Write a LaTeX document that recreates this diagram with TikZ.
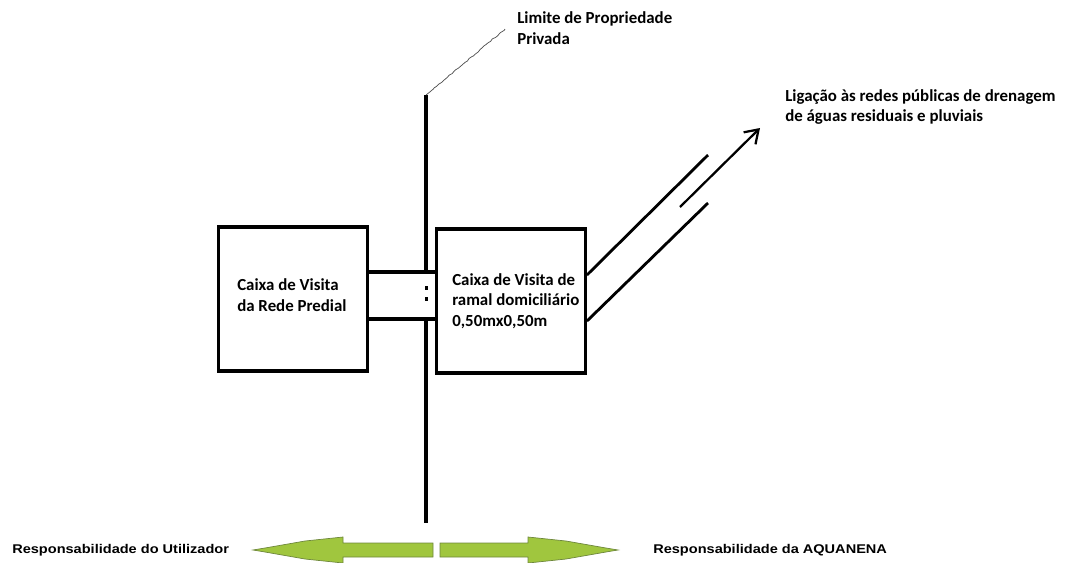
\documentclass[tikz,border=0pt]{standalone}
\usepackage{fontspec}
\setmainfont{Carlito}
\newfontfamily\arialfont[FakeStretch=1.15]{Liberation Sans}
\usetikzlibrary{arrows.meta,decorations.pathmorphing}

\definecolor{verdeseta}{RGB}{160,198,62}
\definecolor{verdeborda}{RGB}{110,135,60}

\tikzset{
  caixa/.style={draw, line width=2.2pt, minimum width=3.72cm, minimum height=3.6cm, inner sep=0pt},
  rotulo/.style={font=\bfseries\fontsize{12}{14.5}\selectfont, align=left, inner sep=0pt, anchor=west},
  rotuloresp/.style={font=\arialfont\bfseries\fontsize{9}{11}\selectfont, inner sep=0pt, anchor=west},
  seta/.style={fill=verdeseta, draw=verdeborda, line width=0.5pt}
}

\begin{document}
\begin{tikzpicture}[x=0.025cm,y=-0.025cm]

\useasboundingbox (0,0) rectangle (1065,562);

% limite de propriedade
\coordinate (LT) at (426,95);
\coordinate (LB) at (426,523);
\coordinate (L1) at (426,272);
\coordinate (L2) at (426,319);
\coordinate (LN) at (505,29);

% caixas
\node [caixa] (CVP) at (293,299) {};
\node [caixa] (CRD) at (511,301) {};

\node [rotulo] (tCVP) at (237,295) {Caixa de Visita\\da Rede Predial};
\node [rotulo] (tCRD) at (452,301) {Caixa de Visita de\\ramal domicili\'ario\\0,50mx0,50m};

% linha vertical
\draw [line width=2.2pt] (LT) -- (L1);
\draw [line width=2.2pt] (L2) -- (LB);
\fill (424.5,286) rectangle (427.5,290);
\fill (424.5,297) rectangle (427.5,301);

% ramais
\draw [line width=2.8pt] (CVP.east |- L1) -- (CRD.west |- L1);
\draw [line width=2.2pt] (CVP.east |- L2) -- (CRD.west |- L2);

% ligacao
\coordinate (R1) at (708,155);
\coordinate (R2) at (708,203);
\coordinate (SA) at (680,207);
\coordinate (SB) at (760,128);

\draw [line width=2pt] (CRD.east |- 0,275) -- (R1);
\draw [line width=2pt] (CRD.east |- 0,321) -- (R2);
\draw [line width=1.6pt, -{Straight Barb[length=9pt, width=12pt]}] (SA) -- (SB);

\draw [line width=0.5pt, black!70, decorate, decoration={random steps, segment length=2pt, amplitude=0.4pt}] (LT) -- (LN);

\node [rotulo] (tLim) at (517,28) {Limite de Propriedade\\Privada};
\node [rotulo] (tLig) at (785,107) {Liga\c{c}\~ao \`as redes p\'ublicas de drenagem\\de \'aguas residuais e pluviais};

% setas de responsabilidade
\draw [seta]
(253,550)
--(265,548)
--(305,541)
--(343,537)
--(343,543)
--(433,543)
--(433,557)
--(343,557)
--(343,563)
--(305,559)
--(265,552)
--cycle;

\draw [seta]
(618,550)
--(606,548)
--(566,541)
--(528,537)
--(528,543)
--(440,543)
--(440,557)
--(528,557)
--(528,563)
--(566,559)
--(606,552)
--cycle;

\node [rotuloresp] (tUti) at (12,550) {Responsabilidade do Utilizador};
\node [rotuloresp] (tAqu) at (653,550) {Responsabilidade da AQUANENA};

\end{tikzpicture}
\end{document}
